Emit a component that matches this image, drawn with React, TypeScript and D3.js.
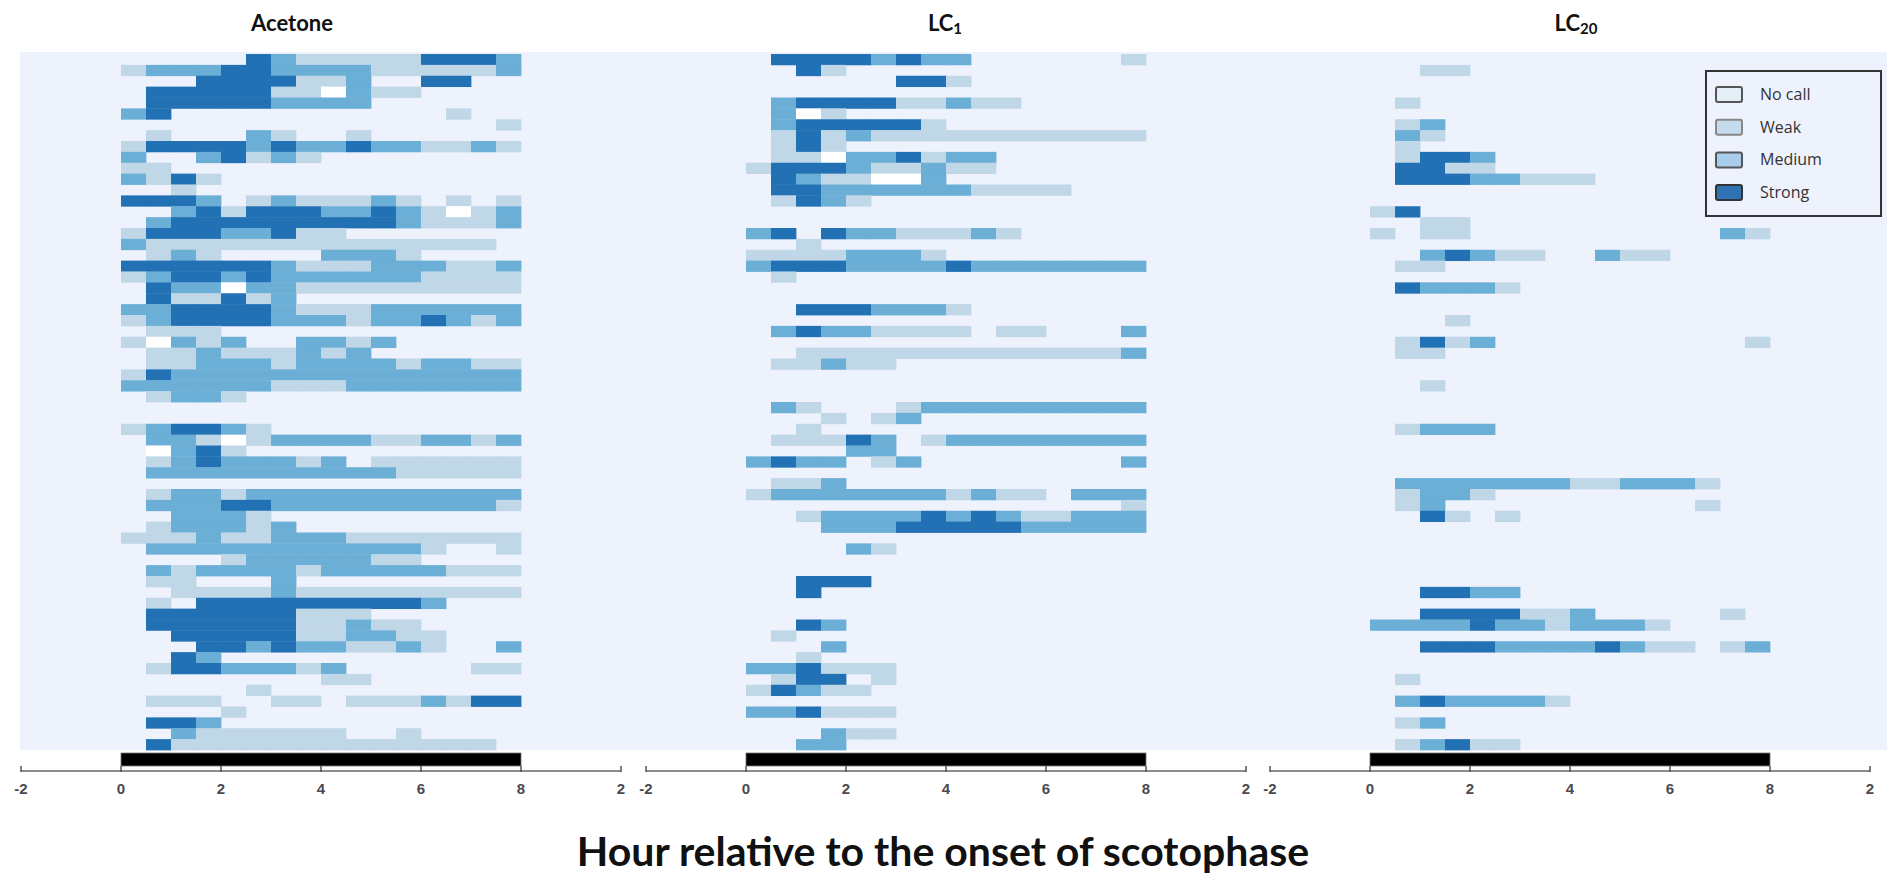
import React from 'react';
import * as d3 from 'd3';

// ---- data: one string per individual (row), one char per 0.5 h bin from 0 h to 8 h
// 0 = no record, n = no call, 1 = weak, 2 = medium, 3 = strong
const acetoneRows: string[] = [
  '0000032111113332', '1222332222111112', '0003333112003300', '03333311n2110000',
  '0333332222000000', '2300000000000100', '0000000000000001', '0100021001000000',
  '1333323223221121', '2002312100000000', '1100000000000000', '2131000000000000',
  '0010000000000000', '3332012111210101', '0023133322321n12', '0233333333321112',
  '1333223110000000', '2111111111111110', '0121000022210000', '3333332111222112',
  '1233232222221111', '0322n22111111111', '0311312000000000', '2233332111222222',
  '1233332221223212', '0111000000000000', '1n21200221200000', '0112111212000000',
  '0112221222212211', '1322222222222222', '2222221112222222', '0122100000000000',
  '0000000000000000', '0000000000000000', '1233210000000000', '0221n12222112212',
  '0n23100000000000', '0123222120111111', '0222222222211111', '0000000000000000',
  '0122122222222222', '0222332222222221', '0022210000000000', '0122212000000000',
  '1112112221111111', '0222222222221001', '0000122222110000', '0212222122222111',
  '0110002000000000', '0011112111111111', '0103333333332000', '0333333111000000',
  '0333333112110000', '0033333112211000', '0003323221121002', '0032000000000000',
  '0133222120000011', '0000000011000000', '0000010000000000', '0111001101112133',
  '0000100000000000', '0332000000000000', '0021111110010000', '0311111111111110',
];

const lc1Rows: string[] = [
  '0333323220000001', '0031000000000000', '0000003310000000', '0000000000000000',
  '0233331121100000', '02n1000000000000', '0233333100000000', '0131211111111111',
  '0131000000000000', '011n223122000000', '1333211211000000', '03211nn200000000',
  '0332222221111000', '0132100000000000', '0000000000000000', '0000000000000000',
  '2303221112100000', '0010000000000000', '1111222100000000', '2333222232222222',
  '0100000000000000', '0000000000000000', '0000000000000000', '0033322210000000',
  '0000000000000000', '0232211110110002', '0000000000000000', '0011111111111112',
  '0112110000000000', '0000000000000000', '0000000000000000', '0000000000000000',
  '0210001222222222', '0001012000000000', '0010000000000000', '0111320122222222',
  '0000220000000000', '2322012000000002', '0000000000000000', '0112000000000000',
  '1222222212110222', '0000000000000001', '0012222323211222', '0002223333322222',
  '0000000000000000', '0000210000000000', '0000000000000000', '0000000000000000',
  '0033300000000000', '0030000000000000', '0000000000000000', '0000000000000000',
  '0032000000000000', '0100000000000000', '0002000000000000', '0010000000000000',
  '2231110000000000', '0133010000000000', '1321100000000000', '0000000000000000',
  '2231110000000000', '0000000000000000', '0002110000000000', '0022000000000000',
];

const lc20Rows: string[] = [
  '0000000000000000', '0011000000000000', '0000000000000000', '0000000000000000',
  '0100000000000000', '0000000000000000', '0120000000000000', '0210000000000000',
  '0100000000000000', '0133200000000000', '0331100000000000', '0333221110000000',
  '0000000000000000', '0000000000000000', '1300000000000000', '0011000000000000',
  '1011000000000021', '0000000000000000', '0023211002110000', '0110000000000000',
  '0000000000000000', '0322210000000000', '0000000000000000', '0000000000000000',
  '0001000000000000', '0000000000000000', '0131200000000001', '0110000000000000',
  '0000000000000000', '0000000000000000', '0010000000000000', '0000000000000000',
  '0000000000000000', '0000000000000000', '0122200000000000', '0000000000000000',
  '0000000000000000', '0000000000000000', '0000000000000000', '0222222211222100',
  '0122100000000000', '0120000000000100', '0031010000000000', '0000000000000000',
  '0000000000000000', '0000000000000000', '0000000000000000', '0000000000000000',
  '0000000000000000', '0033220000000000', '0000000000000000', '0033331120000010',
  '2222322122210000', '0000000000000000', '0033322223211012', '0000000000000000',
  '0000000000000000', '0100000000000000', '0000000000000000', '0232222100000000',
  '0000000000000000', '0120000000000000', '0000000000000000', '0123110000000000',
];

const panelTitles = ['Acetone', 'LC', 'LC'];
const panelSubs = ['', '1', '20'];
const tickValues = [-2, 0, 2, 4, 6, 8, 10];
const tickLabels = ['-2', '0', '2', '4', '6', '8', '2'];
const darkPeriod = [0, 8];
const binHours = 0.5;
const legendLabels = ['No call', 'Weak', 'Medium', 'Strong'];
const xAxisTitle = 'Hour relative to the onset of scotophase';

// ---- layout / style
const W = 1887;
const H = 875;
const panelZero = [121, 746, 1370];
const pxPerHour = 50;
const rowTop = 54;
const rowBottom = 750;
const titleX = [292, 945, 1576];

const cellColor: Record<string, string> = {
  n: '#ffffff',
  '1': '#bfd7e7',
  '2': '#6baed6',
  '3': '#2271b4',
};
const legendFill = ['#e4eef7', '#c5dcee', '#a8cdec', '#2e74b5'];
const legendStroke = ['#555', '#888', '#555', '#333'];

export default function App() {
  const allRows = [acetoneRows, lc1Rows, lc20Rows];
  const nRows = acetoneRows.length;
  const y = d3.scaleBand<number>().domain(d3.range(nRows)).range([rowTop, rowBottom]).paddingInner(0);

  const axisY = 771;

  return (
    <svg
      width={W}
      height={H}
      style={{ position: 'fixed', left: 0, top: 0, background: '#fff' }}
      fontFamily="Lato, 'Open Sans', sans-serif"
    >
      <rect x={0} y={0} width={W} height={H} fill="#ffffff" />
      <rect x={20} y={52} width={W - 20} height={rowBottom - 52} fill="#eef2fd" />

      {allRows.map((rows, p) => {
        const x = d3
          .scaleLinear()
          .domain([-2, 10])
          .range([panelZero[p] - 2 * pxPerHour, panelZero[p] + 10 * pxPerHour]);
        return (
          <g key={p}>
            {rows.map((row, r) =>
              row.split('').map((ch, c) => {
                if (ch === '0') return null;
                const x0 = x(c * binHours);
                const x1 = x((c + 1) * binHours);
                return (
                  <rect
                    key={`${r}-${c}`}
                    x={x0}
                    y={y(r)!}
                    width={x1 - x0 + 0.4}
                    height={y.bandwidth() + 0.4}
                    fill={cellColor[ch]}
                  />
                );
              })
            )}
            {/* dark-period bar */}
            <rect
              x={x(darkPeriod[0])}
              y={753}
              width={x(darkPeriod[1]) - x(darkPeriod[0])}
              height={13}
              fill="#000"
              stroke="#777"
              strokeWidth={0.8}
            />
            {/* axis */}
            <line x1={x(-2)} x2={x(10)} y1={axisY} y2={axisY} stroke="#666" strokeWidth={1.5} />
            {tickValues.map((t, i) => (
              <g key={i}>
                <line x1={x(t)} x2={x(t)} y1={axisY - 5} y2={axisY + 1} stroke="#555" strokeWidth={1.5} />
                <text
                  x={x(t)}
                  y={794}
                  textAnchor="middle"
                  fontFamily="'Liberation Sans', Arial, sans-serif"
                  fontWeight="bold"
                  fontSize={15}
                  fill="#4a4a50"
                >
                  {tickLabels[i]}
                </text>
              </g>
            ))}
            {/* title */}
            <text x={titleX[p]} y={31} textAnchor="middle" fontWeight="bold" fontSize={22} fill="#111">
              {panelTitles[p]}
              {panelSubs[p] && (
                <tspan fontSize={15} dy={3}>
                  {panelSubs[p]}
                </tspan>
              )}
            </text>
          </g>
        );
      })}

      {/* legend */}
      <g>
        <rect x={1706} y={71} width={175} height={145} fill="#eef2fd" stroke="#333" strokeWidth={2} />
        {legendLabels.map((lab, i) => (
          <g key={lab}>
            <rect
              x={1716}
              y={87 + i * 32.7}
              width={26}
              height={15}
              rx={2}
              fill={legendFill[i]}
              stroke={legendStroke[i]}
              strokeWidth={2}
            />
            <text x={1760} y={100 + i * 32.7} fontSize={16} fill="#333" fontFamily="'Open Sans', sans-serif">
              {lab}
            </text>
          </g>
        ))}
      </g>

      <text x={943} y={866} textAnchor="middle" fontWeight="bold" fontSize={41} fill="#111">
        {xAxisTitle}
      </text>
    </svg>
  );
}
